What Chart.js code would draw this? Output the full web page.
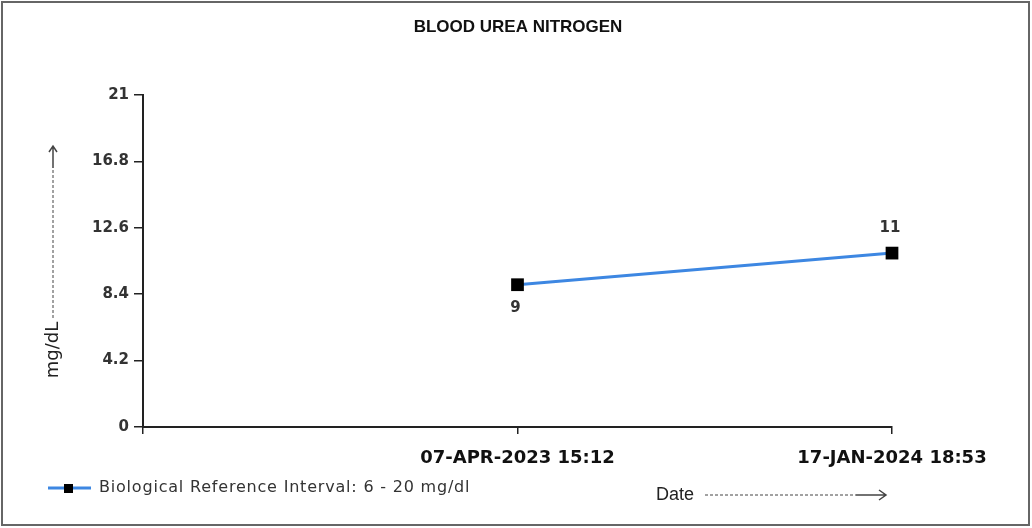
<!DOCTYPE html>
<html>
<head>
<meta charset="utf-8">
<script src="https://cdn.jsdelivr.net/npm/chart.js@4.4.1/dist/chart.umd.min.js"></script>
<style>
  html, body { margin: 0; padding: 0; background: #fff; }
  #wrap { width: 1032px; height: 528px; }
</style>
</head>
<body>
<div id="wrap"><canvas id="bunChart" width="1032" height="528"></canvas></div>
<script>
const TITLE = "BLOOD UREA NITROGEN";
const CATEGORIES = ["", "07-APR-2023 15:12", "17-JAN-2024 18:53"];
const BUN_VALUES = [null, 9, 11];
const LABEL_SIDE = [null, "below", "above"];
const Y_TICKS = [0, 4.2, 8.4, 12.6, 16.8, 21];
const SERIES_LABEL = "Biological Reference Interval: 6 - 20 mg/dl";
const Y_TITLE = "mg/dL";
const X_TITLE = "Date";

const LINE_COLOR = "#3d87e2";
const AXIS_COLOR = "#222";
const TEXT_COLOR = "#333";

function $(id) {
  return document.getElementById(id);
}

// draws title, value labels, legend, axis captions and the frame
const decorations = {
  id: "decorations",
  afterDatasetsDraw(chart) {
    const ctx = chart.ctx;
    const meta = chart.getDatasetMeta(0);
    ctx.save();

    // value labels
    ctx.font = "bold 15px 'DejaVu Sans'";
    ctx.fillStyle = TEXT_COLOR;
    ctx.textAlign = "center";
    ctx.textBaseline = "middle";
    meta.data.forEach((pt, i) => {
      const v = BUN_VALUES[i];
      if (v === null) return;
      const dy = LABEL_SIDE[i] === "below" ? 23 : -25;
      ctx.fillText(String(v), pt.x - 2, pt.y + dy);
    });

    // title
    ctx.font = "bold 17px 'Liberation Sans'";
    ctx.fillStyle = "#111";
    ctx.fillText(TITLE, 518, 27);

    // legend
    ctx.strokeStyle = LINE_COLOR;
    ctx.lineWidth = 3;
    ctx.beginPath();
    ctx.moveTo(48, 488);
    ctx.lineTo(91, 488);
    ctx.stroke();
    ctx.fillStyle = "#000";
    ctx.fillRect(64, 484, 9, 9);
    ctx.font = "16px 'DejaVu Sans'";
    ctx.letterSpacing = "0.8px";
    ctx.fillStyle = TEXT_COLOR;
    ctx.textAlign = "left";
    ctx.fillText(SERIES_LABEL, 99, 488);
    ctx.letterSpacing = "0px";

    // x caption: Date ------->
    ctx.font = "18px 'Liberation Sans'";
    ctx.fillStyle = "#222";
    ctx.fillText(X_TITLE, 656, 495);
    ctx.strokeStyle = "#444";
    ctx.lineWidth = 1;
    ctx.setLineDash([3, 2]);
    ctx.beginPath();
    ctx.moveTo(705, 495);
    ctx.lineTo(856, 495);
    ctx.stroke();
    ctx.setLineDash([]);
    ctx.lineWidth = 1.5;
    ctx.beginPath();
    ctx.moveTo(856, 495);
    ctx.lineTo(886, 495);
    ctx.moveTo(879, 490);
    ctx.lineTo(886, 495);
    ctx.lineTo(879, 500);
    ctx.stroke();

    // y caption: mg/dL -------->
    ctx.save();
    ctx.translate(53, 350);
    ctx.rotate(-Math.PI / 2);
    ctx.font = "18px 'DejaVu Sans'";
    ctx.textAlign = "center";
    ctx.fillStyle = "#222";
    ctx.fillText(Y_TITLE, 0, 0);
    ctx.restore();
    ctx.strokeStyle = "#444";
    ctx.lineWidth = 1;
    ctx.setLineDash([3, 2]);
    ctx.beginPath();
    ctx.moveTo(53, 318);
    ctx.lineTo(53, 168);
    ctx.stroke();
    ctx.setLineDash([]);
    ctx.lineWidth = 1.5;
    ctx.beginPath();
    ctx.moveTo(53, 168);
    ctx.lineTo(53, 146);
    ctx.moveTo(49, 152);
    ctx.lineTo(53, 146);
    ctx.lineTo(57, 152);
    ctx.stroke();

    // outer frame
    ctx.strokeStyle = "#666";
    ctx.lineWidth = 2;
    ctx.strokeRect(2, 2, 1027, 523);

    ctx.restore();
  },
};

new Chart($("bunChart").getContext("2d"), {
  type: "line",
  data: {
    labels: CATEGORIES,
    datasets: [
      {
        label: SERIES_LABEL,
        data: BUN_VALUES,
        borderColor: LINE_COLOR,
        borderWidth: 3,
        pointStyle: "rect",
        pointRadius: 9,
        pointBackgroundColor: "#000",
        pointBorderColor: "#000",
        pointBorderWidth: 0,
        tension: 0,
        spanGaps: false,
      },
    ],
  },
  options: {
    responsive: false,
    animation: false,
    layout: {
      padding: { left: 0, top: 95, right: 140, bottom: 0 },
    },
    plugins: {
      legend: { display: false },
      title: { display: false },
      tooltip: { enabled: false },
    },
    scales: {
      x: {
        type: "category",
        offset: false,
        afterFit: (scale) => {
          scale.height = 101;
        },
        border: { display: true, color: AXIS_COLOR, width: 2 },
        grid: {
          drawOnChartArea: false,
          drawTicks: true,
          tickLength: 7,
          color: AXIS_COLOR,
          lineWidth: 1.5,
        },
        ticks: {
          padding: 14,
          color: "#111",
          font: { family: "'DejaVu Sans'", size: 18, weight: "bold" },
          maxRotation: 0,
          autoSkip: false,
        },
      },
      y: {
        min: 0,
        max: 21,
        afterFit: (scale) => {
          scale.width = 143;
        },
        afterBuildTicks: (scale) => {
          scale.ticks = Y_TICKS.map((v) => ({ value: v }));
        },
        border: { display: true, color: AXIS_COLOR, width: 2 },
        grid: {
          drawOnChartArea: false,
          drawTicks: true,
          tickLength: 9,
          color: AXIS_COLOR,
          lineWidth: 1.5,
        },
        ticks: {
          padding: 5,
          color: TEXT_COLOR,
          font: { family: "'DejaVu Sans'", size: 15, weight: "bold" },
          callback: (v) => String(v),
        },
      },
    },
  },
  plugins: [decorations],
});
</script>
</body>
</html>
